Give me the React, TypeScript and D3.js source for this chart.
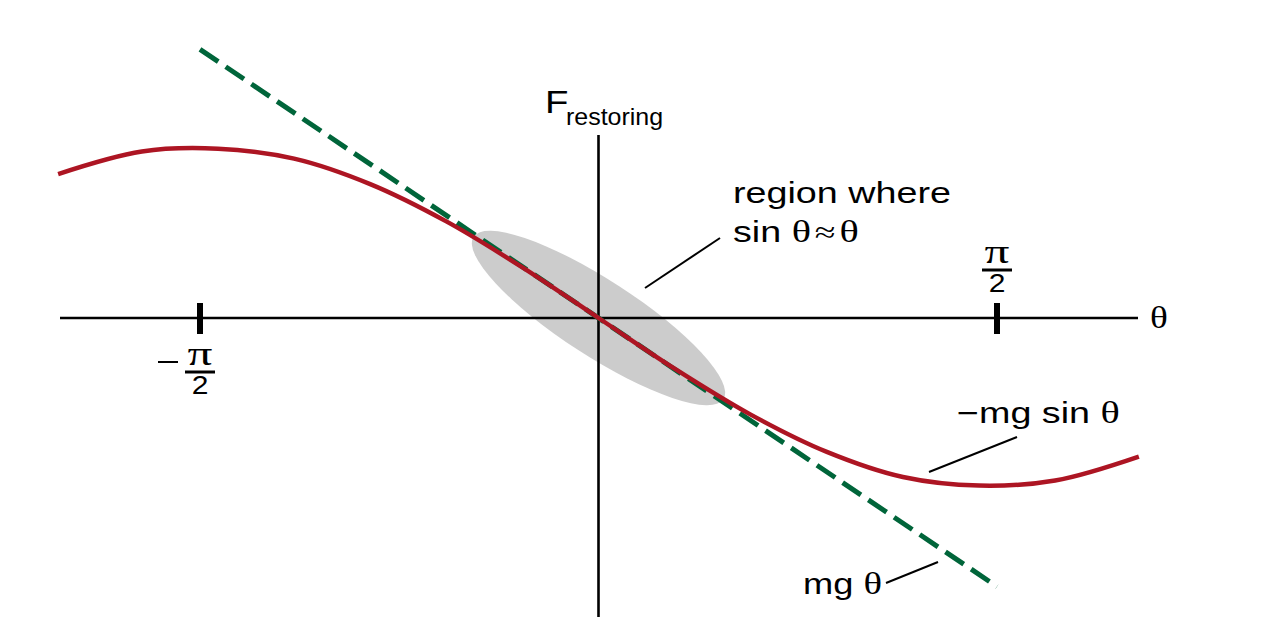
import React from "react";
import * as d3 from "d3";

// Values
const sinTheta = [-2.13, -1.8, -1.5, -1.2, -0.9, -0.6, -0.3, 0, 0.3, 0.6, 0.9, 1.2, 1.5, 1.8, 2.13];
const sinForce = [0.842, 0.974, 0.99, 0.932, 0.783, 0.565, 0.296, 0, -0.296, -0.565, -0.783, -0.93, -0.98, -0.95, -0.81];
const linTheta = [-1.5708, 1.5708];
const linForce = [1.5708, -1.5708];
const tickThetas = [-Math.PI / 2, Math.PI / 2];
const tickSigns = ["−", ""];

const W = 1285;
const H = 625;
const SANS = "'Liberation Sans', Arial, Helvetica, sans-serif";
const SERIF = "'Liberation Serif', 'DejaVu Serif', serif";

const RED = "#ad1523";
const GREEN = "#00653a";

function T({ x, y, size, children, anchor = "start", sx = 1.25 }: any) {
  return (
    <text
      transform={`translate(${x},${y}) scale(${sx},1)`}
      fontSize={size}
      fontFamily={SANS}
      textAnchor={anchor}
      fill="#000"
    >
      {children}
    </text>
  );
}

export default function App() {
  const x = d3.scaleLinear().domain([-Math.PI / 2, Math.PI / 2]).range([200, 997]);
  const y = d3.scaleLinear().domain([-1, 1]).range([318 + 171, 318 - 171]);

  const sinPts = sinTheta.map((t, i) => [t, sinForce[i]] as [number, number]);
  const linPts = linTheta.map((t, i) => [t, linForce[i]] as [number, number]);

  const line = d3
    .line<[number, number]>()
    .x((d) => x(d[0]))
    .y((d) => y(d[1]))
    .curve(d3.curveCatmullRom.alpha(0.5));
  const straight = d3
    .line<[number, number]>()
    .x((d) => x(d[0]))
    .y((d) => y(d[1]));

  const x0 = x(0);
  const y0 = y(0);

  return (
    <svg
      width={W}
      height={H}
      style={{ position: "absolute", left: 0, top: 0, background: "#fff" }}
    >
      {/* shaded region */}
      <ellipse
        cx={x0}
        cy={y0}
        rx={149}
        ry={38}
        fill="#cccccc"
        transform={`rotate(33 ${x0} ${y0})`}
      />
      {/* axes */}
      <line x1={60} x2={1138} y1={y0} y2={y0} stroke="#000" strokeWidth={2.6} />
      <line x1={x0} x2={x0} y1={135} y2={617} stroke="#000" strokeWidth={2.6} />
      {tickThetas.map((t, i) => (
        <line key={i} x1={x(t)} x2={x(t)} y1={303} y2={334} stroke="#000" strokeWidth={6} />
      ))}
      {/* tick labels */}
      {tickThetas.map((t, i) => {
        const cx = x(t);
        const top = i === 0 ? 365 : 263;
        return (
          <g key={"l" + i}>
            {tickSigns[i] && (
              <line x1={cx - 42} x2={cx - 22} y1={top - 3} y2={top - 3} stroke="#000" strokeWidth={2} />
            )}
            <text
              x={0}
              y={0}
              fontSize={34}
              fontFamily={SERIF}
              textAnchor="middle"
              transform={`translate(${cx},${top}) scale(1.45,1)`}
            >
              π
            </text>
            <line x1={cx - 15} x2={cx + 15} y1={top + 7} y2={top + 7} stroke="#000" strokeWidth={3} />
            <T x={cx} y={top + 29} size={25} anchor="middle" sx={1.2}>2</T>
          </g>
        );
      })}
      {/* curves */}
      <path
        d={straight(linPts) || ""}
        fill="none"
        stroke={GREEN}
        strokeWidth={5}
        strokeDasharray="22 9"
      />
      <path d={line(sinPts) || ""} fill="none" stroke={RED} strokeWidth={4.5} />
      {/* leader lines */}
      <line x1={645} y1={288} x2={720} y2={238} stroke="#000" strokeWidth={2} />
      <line x1={929} y1={472} x2={1017} y2={437} stroke="#000" strokeWidth={2} />
      <line x1={886} y1={583} x2={938} y2={562} stroke="#000" strokeWidth={2} />
      {/* labels */}
      <T x={545} y={113} size={32} sx={1.2}>F</T>
      <T x={566} y={125} size={24} sx={1.04}>restoring</T>
      <text transform={`translate(1150,328) scale(1.2,1)`} fontSize={31} fontFamily={SERIF}>θ</text>
      <T x={733} y={203} size={29} sx={1.3}>region where</T>
      <T x={733} y={242} size={29} sx={1.3}>
        sin <tspan fontFamily={SERIF} fontSize={31}>θ</tspan>
        <tspan fontFamily={SERIF} dx={3}>≈</tspan>
        <tspan fontFamily={SERIF} fontSize={31} dx={3}>θ</tspan>
      </T>
      <T x={957} y={423} size={29} sx={1.3}>
        −mg sin <tspan fontFamily={SERIF} fontSize={31}>θ</tspan>
      </T>
      <T x={803} y={594} size={29} sx={1.25}>
        mg <tspan fontFamily={SERIF} fontSize={31}>θ</tspan>
      </T>
    </svg>
  );
}
